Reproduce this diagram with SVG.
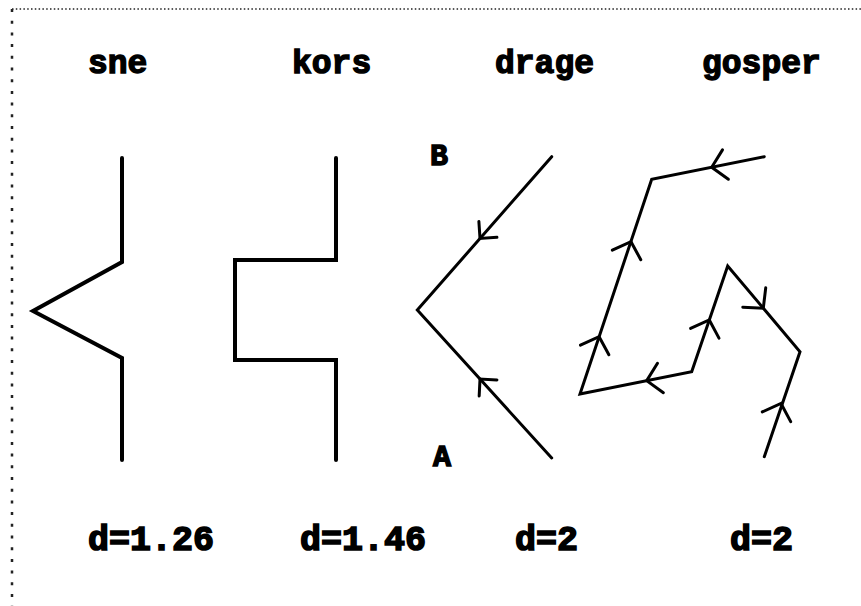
<svg xmlns="http://www.w3.org/2000/svg" xmlns:xlink="http://www.w3.org/1999/xlink" width="861" height="606" viewBox="0 0 861 606">
  <style>
    .title { font-family: "Liberation Mono", "DejaVu Sans Mono", monospace; font-weight: bold; font-size: 33px; fill: #000; stroke: #000; stroke-width: 1.4px; }
    .dim { font-family: "Liberation Mono", "DejaVu Sans Mono", monospace; font-weight: bold; font-size: 35px; fill: #000; stroke: #000; stroke-width: 1.6px; }
    .end { font-family: "Liberation Mono", "DejaVu Sans Mono", monospace; font-weight: bold; font-size: 30px; fill: #000; stroke: #000; stroke-width: 1.4px; }
    .curve { fill: none; stroke: #000; stroke-linejoin: miter; stroke-linecap: round; }
    .heavy { stroke-width: 4; }
    .light { stroke-width: 3; }
    .frame { fill: none; stroke: #222; }
  </style>
  <defs>
    <path id="tip-d" d="M-12,-12 L0,0 L-12,12" fill="none" stroke="#000" stroke-width="3" stroke-linecap="round"/>
    <path id="tip-g" d="M-14,-15 L0,0 L-14,15" fill="none" stroke="#000" stroke-width="3" stroke-linecap="round"/>
  </defs>
  <rect width="861" height="606" fill="#fff"/>

  <!-- dotted frame -->
  <g id="frame">
    <line class="frame" x1="12" y1="9" x2="861" y2="9" stroke-width="1.5" stroke-dasharray="1.5 2.3"/>
    <line class="frame" x1="12" y1="9" x2="12" y2="606" stroke-width="2.5" stroke-dasharray="3 8.7"/>
  </g>

  <!-- headings -->
  <g id="titles">
    <text class="title" x="88" y="73">sne</text>
    <text class="title" x="292" y="73">kors</text>
    <text class="title" x="495" y="73">drage</text>
    <text class="title" x="702" y="73">gosper</text>
  </g>

  <!-- snowflake generator -->
  <g id="sne">
    <polyline class="curve heavy" points="122,158 122,262 33,311 122,358 122,460"/>
  </g>

  <!-- cross generator -->
  <g id="kors">
    <polyline class="curve heavy" points="336,158 336,260 235,260 235,360 336,360 336,460"/>
  </g>

  <!-- dragon generator -->
  <g id="drage">
    <polyline class="curve light" points="551.7,156.7 417.3,310 551.7,458"/>
    <text class="end" x="430" y="165">B</text>
    <text class="end" x="433" y="466">A</text>
  </g>

  <!-- Gosper generator -->
  <g id="gosper">
    <polyline class="curve light" points="764.3,456.7 800,351.7 727.7,266 691.7,371.7 580,394 651.7,179.3 764.3,156.7"/>
  </g>

  <!-- direction arrows -->
  <g id="connectors">
    <use xlink:href="#tip-d" transform="translate(480,238.4) rotate(131.2)"/>
    <use xlink:href="#tip-d" transform="translate(480,379.1) rotate(-132.2)"/>
    <use xlink:href="#tip-g" transform="translate(781,403.5) rotate(-71.2)"/>
    <use xlink:href="#tip-g" transform="translate(763.3,308.2) rotate(49.8)"/>
    <use xlink:href="#tip-g" transform="translate(709.3,320) rotate(-71.2)"/>
    <use xlink:href="#tip-g" transform="translate(646.7,380.7) rotate(168.7)"/>
    <use xlink:href="#tip-g" transform="translate(599.1,336.7) rotate(-71.5)"/>
    <use xlink:href="#tip-g" transform="translate(631,241.7) rotate(-71.5)"/>
    <use xlink:href="#tip-g" transform="translate(711.7,167.3) rotate(168.7)"/>
  </g>

  <!-- dimensions -->
  <g id="dims">
    <text class="dim" x="88" y="550">d=1.26</text>
    <text class="dim" x="300" y="550">d=1.46</text>
    <text class="dim" x="515" y="550">d=2</text>
    <text class="dim" x="730" y="550">d=2</text>
  </g>
</svg>
